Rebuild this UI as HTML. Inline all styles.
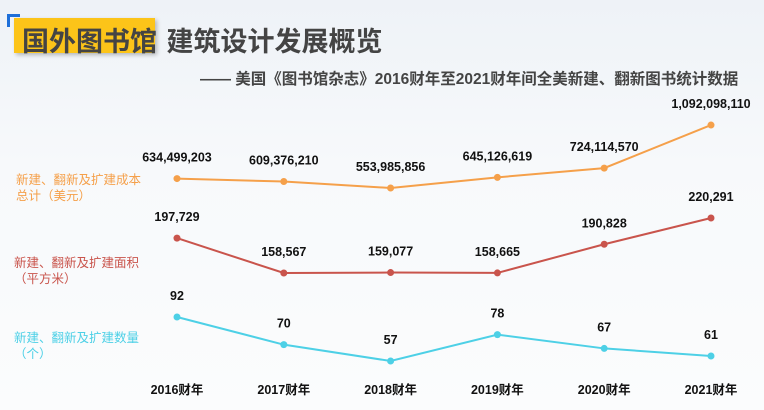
<!DOCTYPE html>
<html><head><meta charset="utf-8"><style>
body{margin:0;width:764px;height:410px;overflow:hidden;font-family:"Liberation Sans","Noto Sans CJK SC",sans-serif;background:linear-gradient(180deg,#eef2f7 0%,#f7f9fb 40%,#fbfcfd 100%);position:relative}
.t{position:absolute}
</style></head><body>
<div class="t" style="left:7px;top:14px;width:10px;height:10px;border-left:3px solid #1e6fd9;border-top:3px solid #1e6fd9"></div>
<div class="t" style="left:14px;top:18px;width:141px;height:35px;background:#fcc419;box-shadow:2px 2px 4px rgba(0,0,0,.25)"></div>
<div class="t" style="left:22px;top:20px;font-size:27px;font-weight:bold;color:#444;white-space:nowrap;letter-spacing:0px">国外图书馆 <span style="margin-left:2px">建筑设计发展概览</span></div>
<div class="t" style="left:200px;top:67px;font-size:15.5px;font-weight:bold;color:#444;white-space:nowrap">—— 美国《图书馆杂志》2016财年至2021财年间全美新建、翻新图书统计数据</div>
<div class="t" style="left:16px;top:172px;font-size:12.5px;color:#f5a04a;line-height:16px">新建、翻新及扩建成本<br>总计（美元）</div>
<div class="t" style="left:14px;top:255px;font-size:12.5px;color:#c9544c;line-height:16px">新建、翻新及扩建面积<br>（平方米）</div>
<div class="t" style="left:14px;top:330px;font-size:12.5px;color:#4dd0e6;line-height:16px">新建、翻新及扩建数量<br>（个）</div>
<svg class="t" style="left:0;top:0" width="764" height="410" id="chart"></svg>
<script>
const years=["2016财年","2017财年","2018财年","2019财年","2020财年","2021财年"];
const cost=[634499203,609376210,553985856,645126619,724114570,1092098110];
const area=[197729,158567,159077,158665,190828,220291];
const count=[92,70,57,78,67,61];
const xs=i=>177+i*106.8;
const yCost=v=>188-(v-554e6)*0.117e-6;
const yArea=v=>273-(v-158567)*0.000891;
const yCount=v=>361-(v-57)*1.257;
const svg=document.getElementById('chart');const NS='http://www.w3.org/2000/svg';
function mk(t,a){const e=document.createElementNS(NS,t);for(const k in a)e.setAttribute(k,a[k]);svg.appendChild(e);return e;}
function series(vals,yf,col,name){
 const pts=vals.map((v,i)=>xs(i)+','+yf(v)).join(' ');
 const l=mk('polyline',{points:pts,fill:'none',stroke:col,'stroke-width':2});
 
 
 vals.forEach((v,i)=>{
  const c=mk('circle',{cx:xs(i),cy:yf(v),r:3.5,fill:col});
  
  
  const t=mk('text',{x:xs(i),y:yf(v)-17,'text-anchor':'middle','font-size':12.5,'font-weight':'bold',fill:'#111'});
  t.textContent=v.toLocaleString('en-US');
  
  
 });
}
series(cost,yCost,'#f5a04a','cost');
series(area,yArea,'#c9544c','area');
series(count,yCount,'#4dd0e6','count');
years.forEach((y,i)=>{
 const t=mk('text',{x:xs(i),y:394,'text-anchor':'middle','font-size':12.5,'font-weight':'bold',fill:'#111'});
 t.textContent=y;
 
 
});
</script>
</body></html>
